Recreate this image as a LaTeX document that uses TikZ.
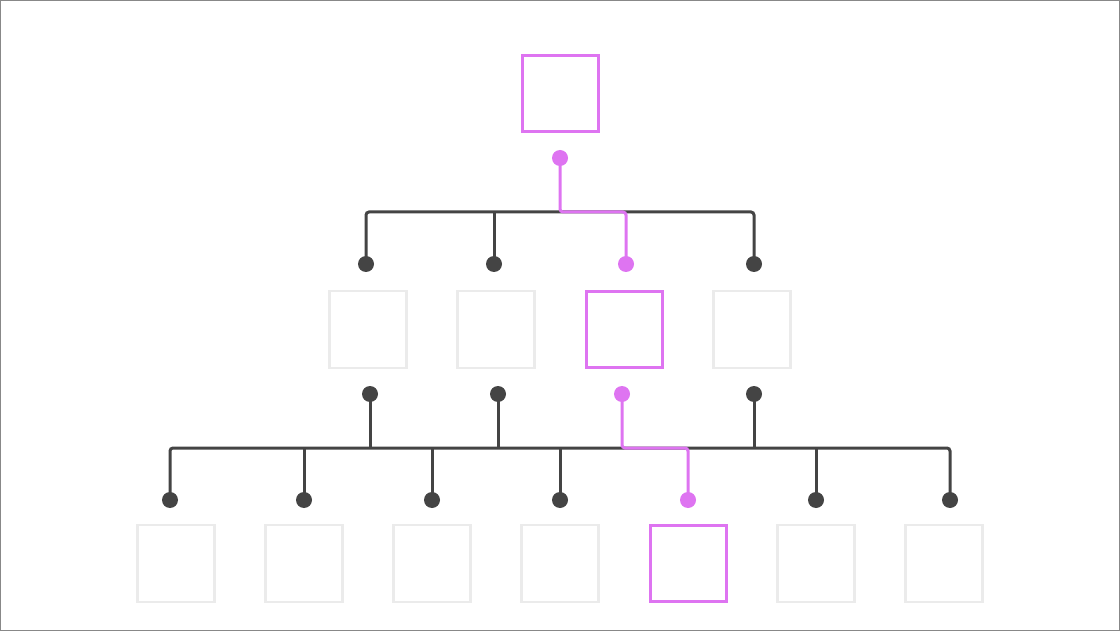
\documentclass[tikz,border=0pt]{standalone}
\definecolor{pinkc}{HTML}{DE74F1}
\definecolor{darkc}{HTML}{444444}
\definecolor{boxg}{HTML}{EBEBEB}
\definecolor{frameg}{HTML}{888888}
\begin{document}
\begin{tikzpicture}[x=1pt,y=-1pt,
  gbox/.style={draw=boxg,line width=2.4pt,minimum size=77pt,inner sep=0pt,outer sep=0pt},
  pbox/.style={draw=pinkc,line width=3pt,minimum size=76pt,inner sep=0pt,outer sep=0pt},
  gdot/.style={circle,fill=darkc,minimum size=16pt,inner sep=0pt,outer sep=0pt},
  pdot/.style={circle,fill=pinkc,minimum size=16pt,inner sep=0pt,outer sep=0pt},
  gline/.style={draw=darkc,line width=3pt,rounded corners=3pt},
  pline/.style={draw=pinkc,line width=3pt,rounded corners=3pt}]
\useasboundingbox (0,0) rectangle (1120,631);
\draw[frameg,line width=1.2pt] (0.6,0.6) rectangle (1119.4,630.4);
% boxes
\node[pbox] (r) at (560,93.5) {};
\node[gbox] (m1) at (368,329.5) {};
\node[gbox] (m2) at (496,329.5) {};
\node[pbox] (m3) at (624,329.5) {};
\node[gbox] (m4) at (752,329.5) {};
\node[gbox] (b1) at (176,563.5) {};
\node[gbox] (b2) at (304,563.5) {};
\node[gbox] (b3) at (432,563.5) {};
\node[gbox] (b4) at (560,563.5) {};
\node[pbox] (b5) at (688,563.5) {};
\node[gbox] (b6) at (816,563.5) {};
\node[gbox] (b7) at (944,563.5) {};
% bus levels
\coordinate (bus1) at (0,212);
\coordinate (bus2) at (0,448);
% dot coordinates
\coordinate (p0c) at (560,158);
\coordinate (a1c) at (366,264);
\coordinate (a2c) at (494,264);
\coordinate (a3c) at (626,264);
\coordinate (a4c) at (754,264);
\coordinate (u1c) at (370,394);
\coordinate (u2c) at (498,394);
\coordinate (u3c) at (622,394);
\coordinate (u4c) at (754,394);
\coordinate (l1c) at (170,500);
\coordinate (l2c) at (304,500);
\coordinate (l3c) at (432,500);
\coordinate (l4c) at (560,500);
\coordinate (l5c) at (688,500);
\coordinate (l6c) at (816,500);
\coordinate (l7c) at (950,500);
% level 1 connectors
\path[gline] (a1c) -- (a1c |- bus1) -- (a4c |- bus1) -- (a4c);
\path[gline] (a2c) -- (a2c |- bus1);
\path[pline] (p0c) -- (p0c |- bus1) -- (a3c |- bus1) -- (a3c);
% level 2 connectors
\path[gline] (l1c) -- (l1c |- bus2) -- (l7c |- bus2) -- (l7c);
\path[gline] (u1c) -- (u1c |- bus2);
\path[gline] (u2c) -- (u2c |- bus2);
\path[gline] (u4c) -- (u4c |- bus2);
\path[gline] (l2c) -- (l2c |- bus2);
\path[gline] (l3c) -- (l3c |- bus2);
\path[gline] (l4c) -- (l4c |- bus2);
\path[gline] (l6c) -- (l6c |- bus2);
\path[pline] (u3c) -- (u3c |- bus2) -- (l5c |- bus2) -- (l5c);
% dots
\node[pdot] (p0) at (p0c) {};
\node[gdot] (a1) at (a1c) {};
\node[gdot] (a2) at (a2c) {};
\node[pdot] (a3) at (a3c) {};
\node[gdot] (a4) at (a4c) {};
\node[gdot] (u1) at (u1c) {};
\node[gdot] (u2) at (u2c) {};
\node[pdot] (u3) at (u3c) {};
\node[gdot] (u4) at (u4c) {};
\node[gdot] (l1) at (l1c) {};
\node[gdot] (l2) at (l2c) {};
\node[gdot] (l3) at (l3c) {};
\node[gdot] (l4) at (l4c) {};
\node[pdot] (l5) at (l5c) {};
\node[gdot] (l6) at (l6c) {};
\node[gdot] (l7) at (l7c) {};
\end{tikzpicture}
\end{document}
